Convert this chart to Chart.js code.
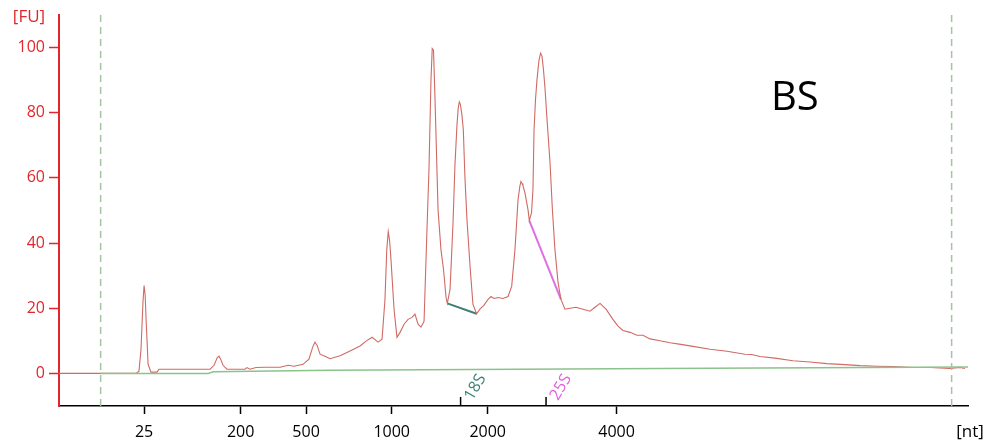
<!DOCTYPE html>
<html>
<head>
<meta charset="utf-8">
<script src="https://cdn.jsdelivr.net/npm/chart.js@4"></script>
<style>
  html, body { margin: 0; padding: 0; background: #fff; }
  #wrap { width: 986px; height: 445px; position: relative; }
</style>
</head>
<body>
<div id="wrap"><canvas id="electroChart" width="986" height="445"></canvas></div>
<script>
// Migration time (s) vs fluorescence (FU)
const traceTime = [19.0, 23.24, 23.40, 23.51, 23.62, 23.68, 23.74, 23.79, 23.90, 24.06, 24.39, 24.50,
    27.31, 27.53, 27.70, 27.80, 27.90, 28.02, 28.24, 29.23, 29.34, 29.50, 29.84, 30.33,
    31.16, 31.60, 31.93, 32.42, 32.75, 32.95, 33.08, 33.20, 33.36, 33.63, 33.91, 34.46,
    35.01, 35.56, 35.89, 36.22, 36.55, 36.77, 36.93, 37.03, 37.11, 37.18, 37.26, 37.43,
    37.59, 37.76, 37.98, 38.20, 38.42, 38.58, 38.75, 38.91, 39.08, 39.24,
    39.35, 39.46, 39.53, 39.60, 39.68, 39.85, 40.01, 40.15, 40.29, 40.36,
    40.51, 40.67, 40.78, 40.89, 40.96, 41.02, 41.08, 41.16, 41.24, 41.33, 41.44, 41.61,
    41.77, 41.97, 42.15, 42.37, 42.60, 42.76, 42.93, 43.15, 43.42, 43.70,
    43.90, 44.08, 44.25, 44.35, 44.41, 44.47, 44.52, 44.63, 44.80, 44.87, 44.99, 45.07,
    45.13, 45.21, 45.29, 45.40, 45.49, 45.57, 45.65, 45.74, 45.82, 46.01, 46.14, 46.28,
    46.45, 46.61, 46.83, 47.11, 47.44, 47.82, 48.21, 48.48, 48.76, 49.09,
    49.47, 49.75, 50.02, 50.41, 50.79, 51.12, 51.51, 52.06, 52.61, 53.20, 53.87,
    54.81, 55.74, 56.73, 57.10, 57.56, 58.38, 59.37, 60.31, 61.24, 62.23, 63.06,
    63.99, 64.87, 65.97, 66.91, 68.01, 68.56, 68.83];
const traceFU = [0, 0, 0.7, 7.4, 22.0, 27.0, 24.0, 16.6, 2.8, 0.4, 0.4, 1.3,
    1.3, 2.5, 4.8, 5.3, 4.3, 2.5, 1.3, 1.3, 1.8, 1.3, 1.8, 1.9,
    1.9, 2.5, 2.2, 2.8, 4.4, 8.0, 9.6, 8.6, 5.9, 5.3, 4.5, 5.4,
    6.9, 8.4, 9.9, 11.1, 9.6, 10.5, 22.7, 38.0, 43.5, 41.0, 35.0, 19.7,
    11.1, 12.6, 15.1, 16.6, 17.2, 18.2, 15.1, 14.2, 16.0, 44.1,
    62.5, 90.0, 99.7, 99.2, 84.8, 50.2, 38.0, 31.9, 23.3, 21.5,
    25.8, 45.7, 64.0, 76.2, 81.5, 83.3, 82.5, 79.5, 74.7, 60.0, 47.2, 32.8,
    21.2, 18.3, 19.7, 20.9, 22.7, 23.6, 23.0, 23.3, 23.0, 23.6,
    26.7, 38.0, 53.3, 57.5, 58.9, 58.3, 57.6, 55.4, 50.2, 46.9, 49.3, 56.4,
    74.7, 84.0, 90.0, 96.1, 98.3, 97.3, 93.1, 87.0, 79.9, 64.6, 50.2, 38.0,
    27.9, 22.7, 19.7, 20.0, 20.3, 19.7, 19.1, 20.3, 21.5, 19.7,
    16.6, 14.5, 13.2, 12.6, 11.7, 11.7, 10.6, 10.0, 9.4, 8.9, 8.3,
    7.4, 6.8, 5.9, 5.8, 5.2, 4.7, 3.9, 3.5, 3.0, 2.7, 2.4,
    2.2, 2.1, 1.8, 1.8, 1.5, 1.8, 1.5];

const baselineTime = [21.3, 27.2, 27.5, 33.9, 52.06, 69.0];
const baselineFU = [0, 0, 0.5, 1.0, 1.5, 2.0];

// 18S / 25S peak area borders
const marker18Time = [40.36, 41.97];
const marker18FU = [21.5, 18.3];
const marker25Time = [44.87, 46.61];
const marker25FU = [46.9, 22.7];

// ladder ticks
const ladderTimes = [23.68, 28.99, 32.59, 37.30, 42.58, 49.67];
const ladderLabels = ['25', '200', '500', '1000', '2000', '4000'];
const rRNATimes = [41.09, 45.79];
const rRNALabels = ['18S', '25S'];
const rRNAColors = ['#3c7f74', '#e060e0'];
const fuTicks = [0, 20, 40, 60, 80, 100];
const markerLines = [21.29, 68.10]; // lower / upper marker

function toPoints(xs, ys) {
    return xs.map((x, i) => ({ x: x, y: ys[i] }));
}

const extraText = {
    id: 'extraText',
    afterDraw(chart) {
        const ctx = chart.ctx;
        const xs = chart.scales.x;
        const base = chart.chartArea.bottom;
        ctx.save();
        // small ticks above the axis for 18S / 25S with rotated labels
        rRNATimes.forEach((t, i) => {
            const px = xs.getPixelForValue(t);
            ctx.strokeStyle = '#000';
            ctx.lineWidth = 1.5;
            ctx.beginPath();
            ctx.moveTo(px, base);
            ctx.lineTo(px, base - 9);
            ctx.stroke();
            ctx.save();
            ctx.translate(px + 8, base - 7);
            ctx.rotate(-Math.PI / 3);
            ctx.fillStyle = rRNAColors[i];
            ctx.font = '16px "Open Sans"';
            ctx.textAlign = 'left';
            ctx.textBaseline = 'middle';
            ctx.fillText(rRNALabels[i], 0, 0);
            ctx.restore();
        });
        ctx.font = '17px "Open Sans"';
        ctx.fillStyle = '#000';
        ctx.textAlign = 'center';
        ctx.textBaseline = 'middle';
        ctx.fillText('[nt]', 970, 432);
        ctx.fillStyle = '#e3262c';
        ctx.fillText('[FU]', 29, 17);
        ctx.font = '40px "Open Sans"';
        ctx.fillStyle = '#000';
        ctx.textAlign = 'left';
        ctx.textBaseline = 'alphabetic';
        ctx.fillText('BS', 771, 110);
        ctx.restore();
    }
};

const ctx = document.getElementById('electroChart').getContext('2d');
new Chart(ctx, {
    type: 'line',
    data: {
        datasets: [
            {
                data: toPoints([markerLines[0], markerLines[0]], [-10, 110]),
                borderColor: '#a3c4a3',
                borderWidth: 1.5,
                borderDash: [7, 5]
            },
            {
                data: toPoints([markerLines[1], markerLines[1]], [-10, 110]),
                borderColor: '#a3c4a3',
                borderWidth: 1.5,
                borderDash: [7, 5]
            },
            {
                data: toPoints(baselineTime, baselineFU),
                borderColor: '#8cc28c',
                borderWidth: 1.5
            },
            {
                data: toPoints(traceTime, traceFU),
                borderColor: '#d06a64',
                borderWidth: 1.1
            },
            {
                data: toPoints(marker18Time, marker18FU),
                borderColor: '#3c7f74',
                borderWidth: 2
            },
            {
                data: toPoints(marker25Time, marker25FU),
                borderColor: '#e070e0',
                borderWidth: 2
            }
        ]
    },
    options: {
        responsive: false,
        animation: false,
        layout: { padding: { top: 15, right: 18, left: 0, bottom: 0 } },
        elements: { point: { radius: 0 }, line: { tension: 0 } },
        plugins: { legend: { display: false }, tooltip: { enabled: false } },
        scales: {
            x: {
                type: 'linear',
                min: 19,
                max: 69,
                afterBuildTicks: (scale) => {
                    scale.ticks = ladderTimes.map(v => ({ value: v }));
                },
                afterFit: (scale) => { scale.height = 39; },
                ticks: {
                    autoSkip: false,
                    maxRotation: 0,
                    padding: 9,
                    color: '#000',
                    font: { family: 'Open Sans', size: 16 },
                    callback: (value, index) => ladderLabels[index]
                },
                grid: {
                    drawOnChartArea: false,
                    tickLength: 8,
                    tickColor: '#000',
                    tickWidth: 1.5
                },
                border: { color: '#000', width: 1.5 }
            },
            y: {
                min: -10,
                max: 110,
                afterBuildTicks: (scale) => {
                    scale.ticks = fuTicks.map(v => ({ value: v }));
                },
                afterFit: (scale) => { scale.width = 59; },
                ticks: {
                    padding: 4,
                    color: '#e3262c',
                    font: { family: 'Open Sans', size: 16 }
                },
                grid: {
                    drawOnChartArea: false,
                    tickLength: 10,
                    tickColor: '#e3262c',
                    tickWidth: 1.5
                },
                border: { color: '#e3262c', width: 2 }
            }
        }
    },
    plugins: [extraText]
});
</script>
</body>
</html>
